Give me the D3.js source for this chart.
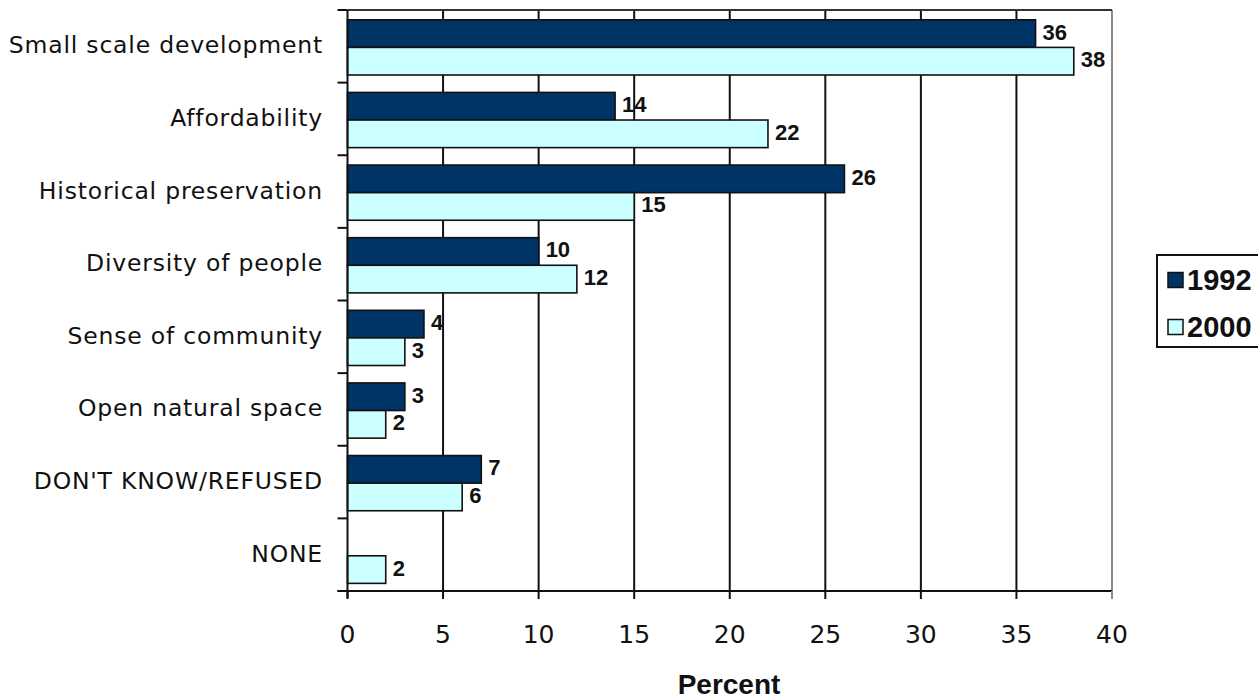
<!DOCTYPE html>
<html>
<head>
<meta charset="utf-8">
<script src="https://cdn.jsdelivr.net/npm/d3@7"></script>
<style>
  html, body { margin: 0; padding: 0; background: #ffffff; }
  svg { display: block; }
</style>
</head>
<body>
<svg id="chart" width="1258" height="700"></svg>
<script>
// Survey categories, top to bottom
const categories = [
  "Small scale development",
  "Affordability",
  "Historical preservation",
  "Diversity of people",
  "Sense of community",
  "Open natural space",
  "DON'T KNOW/REFUSED",
  "NONE"
];
const seriesNames = ["1992", "2000"];
const values1992 = [36, 14, 26, 10, 4, 3, 7, null];
const values2000 = [38, 22, 15, 12, 3, 2, 6, 2];
const xTicks = [0, 5, 10, 15, 20, 25, 30, 35, 40];
const seriesColors = ["#003366", "#ccffff"];

const svg = d3.select("#chart");
const plot = { left: 347.5, right: 1112, top: 10, bottom: 591 };

const x = d3.scaleLinear().domain([0, 40]).range([plot.left, plot.right]);
const y = d3.scaleBand().domain(categories).range([plot.top, plot.bottom]).padding(0);
const bw = y.bandwidth();
const ySub = d3.scaleBand().domain(seriesNames)
  .range([bw * 0.135, bw * 0.895]).padding(0);

const rows = categories.map((c, i) => ({
  category: c,
  values: [
    { series: "1992", value: values1992[i] },
    { series: "2000", value: values2000[i] }
  ]
}));

// plot background
svg.append("rect")
  .attr("x", plot.left).attr("y", plot.top)
  .attr("width", plot.right - plot.left).attr("height", plot.bottom - plot.top)
  .attr("fill", "#ffffff");

// vertical gridlines
svg.append("g").selectAll("line")
  .data(xTicks.filter(t => t > 0))
  .join("line")
  .attr("x1", d => x(d)).attr("x2", d => x(d))
  .attr("y1", plot.top).attr("y2", plot.bottom)
  .attr("stroke", d => d === 40 ? "#8a8a8a" : "#111")
  .attr("stroke-width", 2);

// top frame line
svg.append("line")
  .attr("x1", plot.left).attr("x2", plot.right)
  .attr("y1", plot.top).attr("y2", plot.top)
  .attr("stroke", "#333").attr("stroke-width", 2);

// bars
const groups = svg.append("g").selectAll("g")
  .data(rows).join("g")
  .attr("transform", d => `translate(0,${y(d.category)})`);

groups.selectAll("rect")
  .data(d => d.values.filter(v => v.value != null))
  .join("rect")
  .attr("x", x(0))
  .attr("y", d => ySub(d.series))
  .attr("width", d => x(d.value) - x(0))
  .attr("height", ySub.bandwidth())
  .attr("fill", d => seriesColors[seriesNames.indexOf(d.series)])
  .attr("stroke", "#111")
  .attr("stroke-width", 1.6);

// value labels
groups.selectAll("text")
  .data(d => d.values.filter(v => v.value != null))
  .join("text")
  .attr("x", d => x(d.value) + 7)
  .attr("y", d => ySub(d.series) + ySub.bandwidth() / 2 - 1.5)
  .attr("dominant-baseline", "central")
  .attr("font-family", "Arial, 'Liberation Sans', sans-serif")
  .attr("font-weight", "bold")
  .attr("font-size", 22)
  .attr("fill", "#111")
  .text(d => d.value);

// y axis
const yAxis = svg.append("g");
yAxis.append("line")
  .attr("x1", plot.left).attr("x2", plot.left)
  .attr("y1", plot.top).attr("y2", plot.bottom + 7)
  .attr("stroke", "#111").attr("stroke-width", 2);
yAxis.selectAll("line.tick")
  .data(d3.range(categories.length + 1))
  .join("line")
  .attr("class", "tick")
  .attr("x1", plot.left - 10).attr("x2", plot.left)
  .attr("y1", i => plot.top + i * bw).attr("y2", i => plot.top + i * bw)
  .attr("stroke", "#111").attr("stroke-width", 2);
yAxis.selectAll("text")
  .data(categories)
  .join("text")
  .attr("x", 323)
  .attr("y", d => y(d) + bw / 2 - 1)
  .attr("text-anchor", "end")
  .attr("dominant-baseline", "central")
  .attr("font-family", "'DejaVu Sans', sans-serif")
  .attr("font-size", 23.5)
  .attr("letter-spacing", 0.8)
  .attr("fill", "#111")
  .text(d => d);

// x axis
const xAxis = svg.append("g");
xAxis.append("line")
  .attr("x1", plot.left - 10).attr("x2", plot.right)
  .attr("y1", plot.bottom).attr("y2", plot.bottom)
  .attr("stroke", "#111").attr("stroke-width", 2);
xAxis.selectAll("line.tick")
  .data(xTicks)
  .join("line")
  .attr("class", "tick")
  .attr("x1", d => x(d)).attr("x2", d => x(d))
  .attr("y1", plot.bottom).attr("y2", plot.bottom + 8)
  .attr("stroke", d => d === 40 ? "#8a8a8a" : "#111").attr("stroke-width", 2);
xAxis.selectAll("text")
  .data(xTicks)
  .join("text")
  .attr("x", d => x(d))
  .attr("y", 634)
  .attr("text-anchor", "middle")
  .attr("dominant-baseline", "central")
  .attr("font-family", "'DejaVu Sans', sans-serif")
  .attr("font-size", 25)
  .attr("fill", "#111")
  .text(d => d);

// axis title, sitting on its baseline just above the bottom edge
svg.append("text")
  .attr("x", 729).attr("y", 694)
  .attr("text-anchor", "middle")
  .attr("font-family", "Arial, 'Liberation Sans', sans-serif")
  .attr("font-weight", "bold")
  .attr("font-size", 28)
  .attr("fill", "#111")
  .text("Percent");

// legend
const legend = svg.append("g");
legend.append("rect")
  .attr("x", 1157).attr("y", 255)
  .attr("width", 120).attr("height", 92)
  .attr("fill", "#ffffff")
  .attr("stroke", "#111").attr("stroke-width", 2);
const items = legend.selectAll("g")
  .data(seriesNames)
  .join("g")
  .attr("transform", (d, i) => `translate(1168,${280 + i * 47})`);
items.append("rect")
  .attr("x", 0).attr("y", -7.5)
  .attr("width", 15).attr("height", 15)
  .attr("fill", (d, i) => seriesColors[i])
  .attr("stroke", "#111").attr("stroke-width", 1.5);
items.append("text")
  .attr("x", 19).attr("y", 0)
  .attr("dominant-baseline", "central")
  .attr("font-family", "Arial, 'Liberation Sans', sans-serif")
  .attr("font-weight", "bold")
  .attr("font-size", 29)
  .attr("fill", "#111")
  .text(d => d);
</script>
</body>
</html>
